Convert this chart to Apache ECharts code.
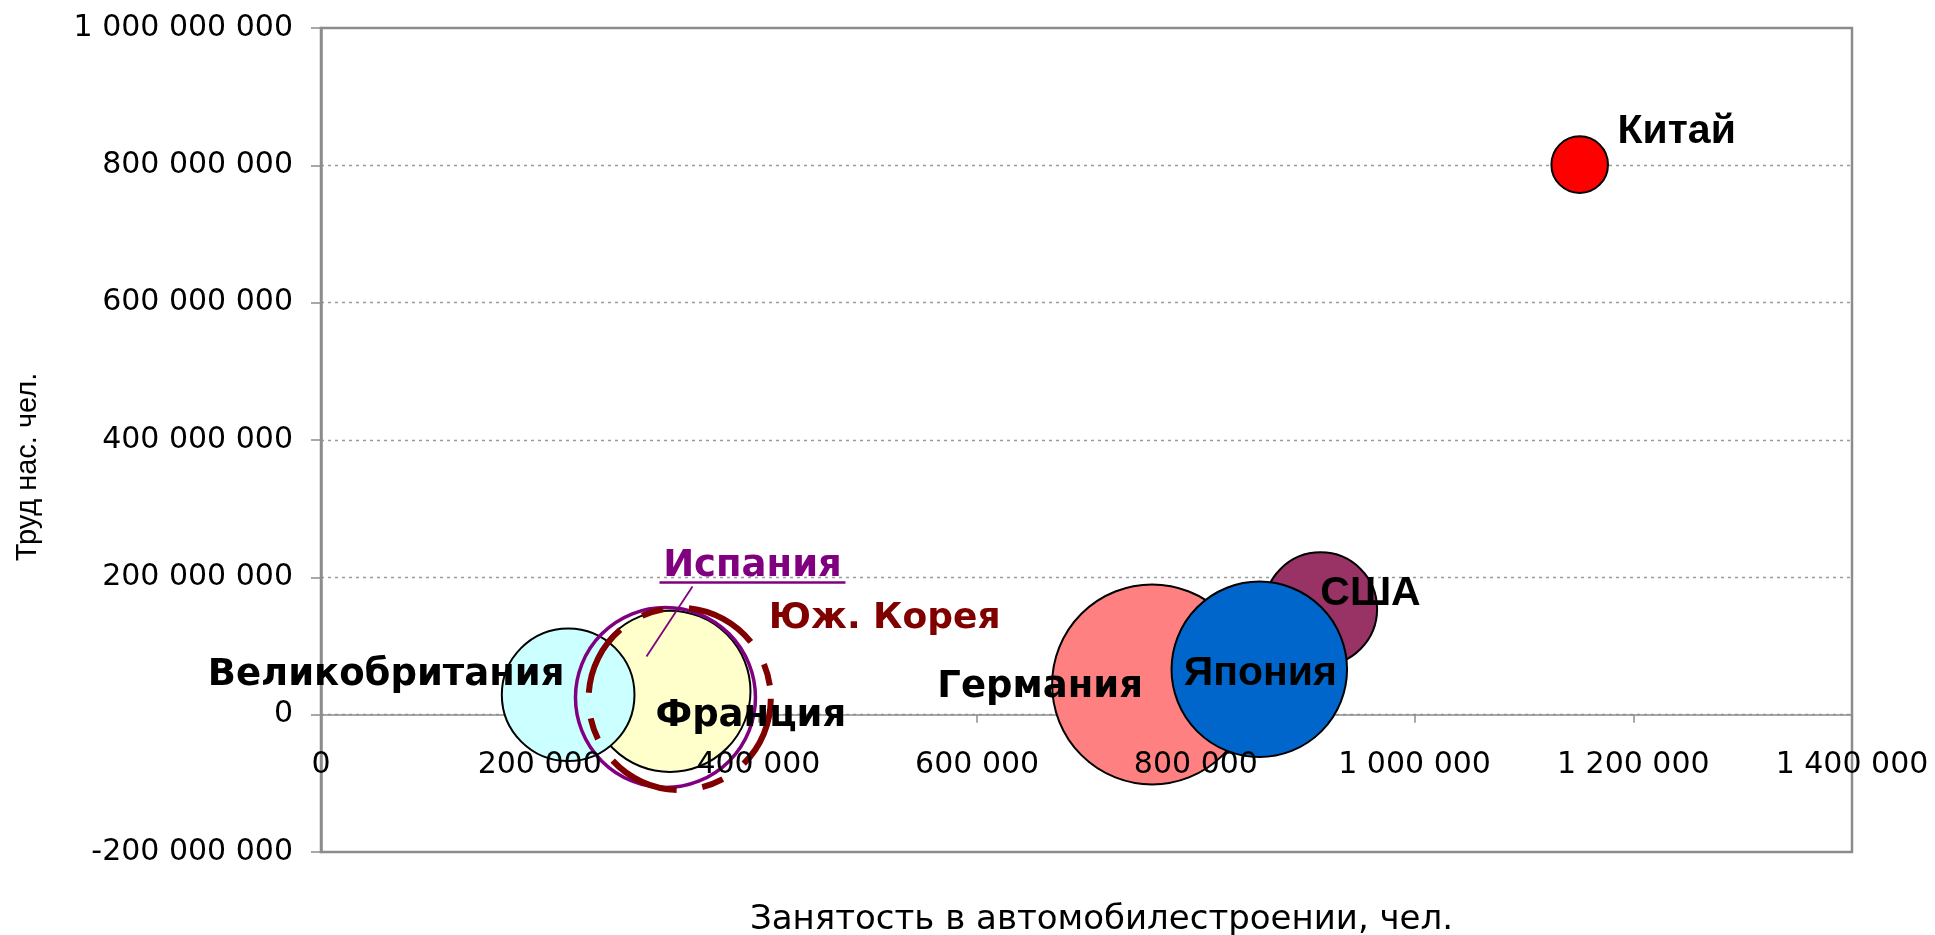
<!DOCTYPE html>
<html>
<head>
<meta charset="utf-8">
<script src="https://cdn.jsdelivr.net/npm/echarts@6/dist/echarts.min.js"></script>
<style>
html,body{margin:0;padding:0;background:#fff;}
#chart{width:1935px;height:935px;}
</style>
</head>
<body>
<div id="chart"></div>
<script>
// ---- data ----
const countries      = ['Китай', 'США', 'Германия', 'Япония', 'Франция', 'Великобритания', 'Испания', 'Юж. Корея'];
const autoEmployment = [1151000, 914000, 760000, 858000, 319000, 226000, 315000, 328000];
const laborForce     = [801000000, 154000000, 44000000, 66000000, 34000000, 29000000, 25000000, 23000000];
const bubbleSize     = [8, 32, 100, 77, 65, 44, 81, 83];

const xAxisMin = 0, xAxisMax = 1400000, xAxisStep = 200000;
const yAxisMin = -200000000, yAxisMax = 1000000000, yAxisStep = 200000000;

const xAxisTitle = 'Занятость в автомобилестроении, чел.';
const yAxisTitle = 'Труд нас. чел.';

// ---- styles ----
const BUBBLE_STYLE = {
  'Китай':          {color: '#FF0000', borderColor: '#000', borderWidth: 2, opacity: 1},
  'США':            {color: '#993366', borderColor: '#000', borderWidth: 2, opacity: 1},
  'Германия':       {color: '#FF8080', borderColor: '#000', borderWidth: 2, opacity: 1},
  'Япония':         {color: '#0066CC', borderColor: '#000', borderWidth: 2, opacity: 1},
  'Франция':        {color: '#FFFFCC', borderColor: '#000', borderWidth: 2, opacity: 1},
  'Великобритания': {color: '#CCFFFF', borderColor: '#000', borderWidth: 2, opacity: 1},
  'Испания':        {color: 'rgba(0,0,0,0)', borderColor: '#800080', borderWidth: 3.5, opacity: 1},
  'Юж. Корея':      {color: 'rgba(0,0,0,0)', borderColor: '#800000', borderWidth: 6, borderType: [72, 26, 22, 26], opacity: 1}
};
const NARROW = 'Liberation Sans, Arial, sans-serif';
const WIDE = 'DejaVu Sans, Verdana, sans-serif';
const LABEL_STYLE = {
  'Китай':          {offset: [97, -33],   fontFamily: NARROW, fontSize: 41, color: '#000'},
  'США':            {offset: [50, -15],   fontFamily: NARROW, fontSize: 41, color: '#000'},
  'Германия':       {offset: [-112, 3],   fontFamily: WIDE,   fontSize: 37, color: '#000'},
  'Япония':         {offset: [1, 4],      fontFamily: NARROW, fontSize: 41, color: '#000'},
  'Франция':        {offset: [81, 25],    fontFamily: WIDE,   fontSize: 37, color: '#000'},
  'Великобритания': {offset: [-182, -19], fontFamily: WIDE,   fontSize: 37, color: '#000'},
  'Испания':        {offset: [87, -131],  fontFamily: WIDE,   fontSize: 37, color: '#800080'},
  'Юж. Корея':      {offset: [205, -80],  fontFamily: WIDE,   fontSize: 36, color: '#800000'}
};
const GRID_GREY = '#8c8c8c';

function spaced(v) {
  const s = Math.abs(Math.round(v)).toString().replace(/\B(?=(\d{3})+(?!\d))/g, ' ');
  return (v < 0 ? '-' : '') + s;
}

const bubbleData = countries.map((name, i) => ({
  name: name,
  value: [autoEmployment[i], laborForce[i], bubbleSize[i]],
  itemStyle: BUBBLE_STYLE[name]
}));

const labelData = countries.map((name, i) => {
  const ls = LABEL_STYLE[name];
  return {
    name: name,
    value: [autoEmployment[i], laborForce[i]],
    label: {
      show: true,
      position: 'inside',
      offset: ls.offset,
      formatter: name,
      fontFamily: ls.fontFamily,
      fontSize: ls.fontSize,
      fontWeight: 'bold',
      color: ls.color,
      opacity: 1
    }
  };
});

const spainIdx = countries.indexOf('Испания');

const chart = echarts.init(document.getElementById('chart'), null, {renderer: 'canvas'});
chart.setOption({
  animation: false,
  backgroundColor: '#ffffff',
  grid: {
    left: 321, right: 83, top: 28, bottom: 83,
    containLabel: false,
    outerBoundsMode: 'none',
    show: true, borderColor: GRID_GREY, borderWidth: 2.5, backgroundColor: 'rgba(0,0,0,0)'
  },
  xAxis: [
    {
      // axis line at zero, ticks and title (beneath the bubbles)
      type: 'value',
      position: 'bottom',
      min: xAxisMin, max: xAxisMax, interval: xAxisStep,
      name: xAxisTitle,
      nameLocation: 'middle',
      nameGap: 51,
      nameTextStyle: {fontFamily: WIDE, fontSize: 34, color: '#000', padding: [0, 0, 0, 30]},
      axisLine: {show: true, onZero: true, lineStyle: {color: GRID_GREY, width: 1.5}},
      axisTick: {show: true, length: 8, lineStyle: {color: GRID_GREY, width: 1.5}},
      axisLabel: {show: false},
      splitLine: {show: false}
    },
    {
      // tick labels drawn above the bubbles, as in the reference
      type: 'value',
      position: 'bottom',
      z: 10,
      min: xAxisMin, max: xAxisMax, interval: xAxisStep,
      axisLine: {show: false, onZero: false},
      axisTick: {show: false},
      axisLabel: {margin: -102, fontFamily: WIDE, fontSize: 30, color: '#000', formatter: spaced},
      splitLine: {show: false}
    }
  ],
  yAxis: {
    type: 'value',
    min: yAxisMin, max: yAxisMax, interval: yAxisStep,
    name: yAxisTitle,
    nameLocation: 'middle',
    nameGap: 279,
    nameTextStyle: {fontFamily: NARROW, fontSize: 29, color: '#000', padding: [0, 54, 0, 0]},
    axisLine: {show: true, onZero: false, lineStyle: {color: GRID_GREY, width: 2.5}},
    axisTick: {show: true, length: 10, lineStyle: {color: GRID_GREY, width: 1.5}},
    axisLabel: {margin: 28, fontFamily: WIDE, fontSize: 30, color: '#000', formatter: spaced},
    splitLine: {
      show: true, showMinLine: false, showMaxLine: false,
      lineStyle: {color: '#9a9a9a', width: 1.3, type: [3, 4]}
    }
  },
  series: [
    {
      type: 'scatter',
      z: 2,
      xAxisIndex: 0,
      data: bubbleData,
      symbol: 'circle',
      symbolSize: function (val) { return 20 * Math.sqrt(val[2]); },
      itemStyle: {opacity: 1},
      label: {show: false},
      emphasis: {disabled: true}
    },
    {
      type: 'custom',
      coordinateSystem: 'cartesian2d',
      xAxisIndex: 0,
      z: 3,
      silent: true,
      data: [[autoEmployment[spainIdx], laborForce[spainIdx]]],
      renderItem: function (params, api) {
        const p = api.coord([api.value(0), api.value(1)]);
        return {
          type: 'group',
          children: [
            {type: 'line', shape: {x1: p[0] - 19, y1: p[1] - 41, x2: p[0] + 27, y2: p[1] - 111},
             style: {stroke: '#800080', lineWidth: 1.8}},
            {type: 'line', shape: {x1: p[0] - 6, y1: p[1] - 115, x2: p[0] + 180, y2: p[1] - 115},
             style: {stroke: '#800080', lineWidth: 2.5}}
          ]
        };
      }
    },
    {
      type: 'scatter',
      xAxisIndex: 0,
      z: 4,
      silent: true,
      data: labelData,
      symbol: 'circle',
      symbolSize: 1,
      itemStyle: {color: 'rgba(0,0,0,0)', opacity: 1},
      emphasis: {disabled: true}
    }
  ]
});
</script>
</body>
</html>
